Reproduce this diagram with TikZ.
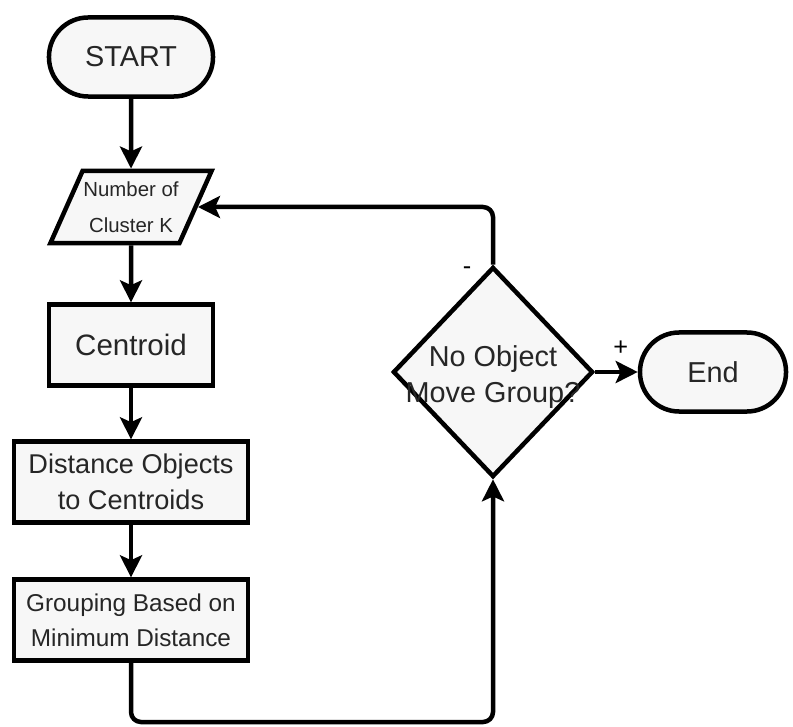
\documentclass[tikz,border=0pt]{standalone}
\usepackage{fontspec}
\setmainfont{Liberation Sans}
\usetikzlibrary{shapes.geometric, arrows.meta}
\newcommand{\bigfont}{\fontsize{20.5}{25.5}\selectfont}
\newcommand{\midfont}{\fontsize{19.3}{25.5}\selectfont}
\newcommand{\lowfont}{\fontsize{17.3}{25}\selectfont}
\newcommand{\smallfont}{\fontsize{14.5}{26}\selectfont}
\newcommand{\signfont}{\fontsize{18}{20}\selectfont}

\begin{document}
\begin{tikzpicture}[x=0.025cm, y=-0.025cm,
    box/.style={draw, line width=3.2pt, fill=black!3, text=black!85, font=\bigfont, align=center, inner sep=0pt},
    terminal/.style={box, rounded corners=0.98cm, minimum height=1.975cm},
    process/.style={box, minimum height=2.02cm},
    flow/.style={line width=3.2pt, -{Stealth[length=0.55cm, width=0.55cm, inset=0.12cm]}}]
    \useasboundingbox (0,0) rectangle (793,727);
    % nodes
    \node [terminal, minimum width=4.1cm] (start) at (131,57) {START};
    \node [box, trapezium, trapezium left angle=66, trapezium right angle=114,
        inner xsep=0.02cm, inner ysep=0.26cm, font=\smallfont] (input) at (131,207) {Number of\\Cluster K};
    \node [process, minimum width=4.1cm, font=\fontsize{21}{25}\selectfont] (centroid) at (131,345) {Centroid};
    \node [process, minimum width=5.85cm, font=\midfont] (distance) at (131,482) {Distance Objects\\to Centroids};
    \node [process, minimum width=5.85cm, font=\lowfont] (grouping) at (131,620) {Grouping Based on\\Minimum Distance};
    \node [box, diamond, minimum width=5cm, minimum height=5.25cm,
        label={[align=center, font=\bigfont, text=black!85, yshift=-0.12cm]center:No Object\\Move Group?}] (decision) at (493,372) {};
    \node [terminal, minimum width=3.65cm] (end) at (713,372) {End};
    \coordinate (loopbottom) at (131,722);
    % connectors
    \draw [flow] (start) -- (input);
    \draw [flow] (input) -- (centroid);
    \draw [flow] (centroid) -- (distance);
    \draw [flow] (distance) -- (grouping);
    \draw [flow, rounded corners=0.25cm] (grouping.south) -- (loopbottom) -| (decision.south);
    \draw [flow, rounded corners=0.25cm] (decision.north)
        node [font=\signfont, xshift=-0.65cm, yshift=-0.15cm] {-} |- (input.east);
    \draw [flow] (decision.east) -- node [font=\signfont, above=0.25cm, pos=0.6] {+} (end.west);
\end{tikzpicture}
\end{document}
